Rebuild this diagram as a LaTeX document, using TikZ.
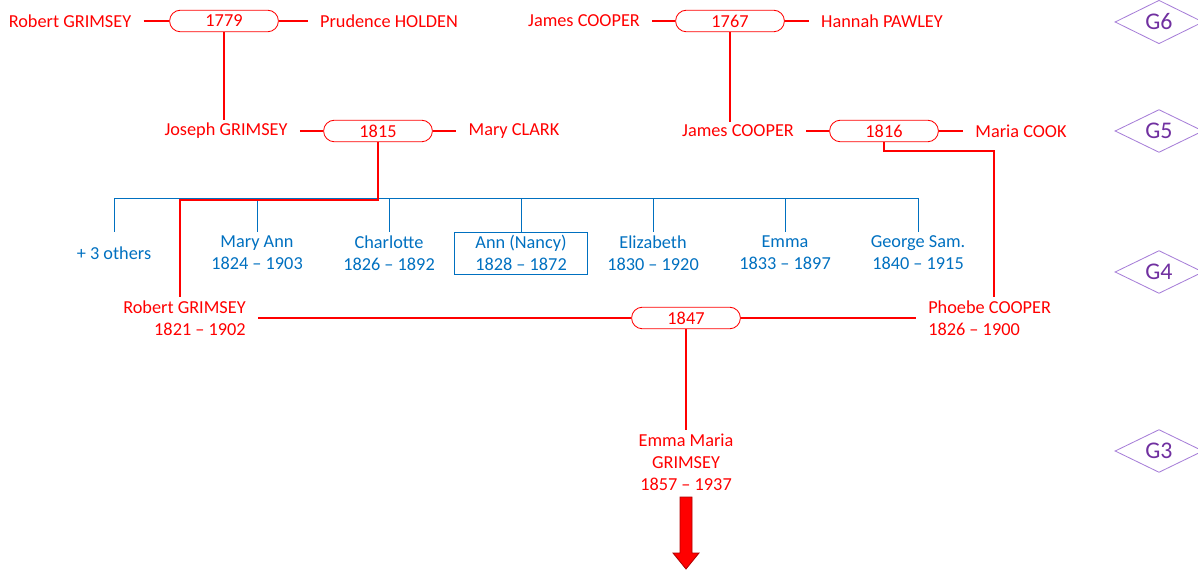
\documentclass[tikz,border=0pt]{standalone}
\usepackage{fontspec}
\setmainfont{Carlito}
\usetikzlibrary{shapes.geometric}
\definecolor{Kin}{HTML}{FF0000}
\definecolor{Kid}{HTML}{0070C0}
\definecolor{Gen}{HTML}{7030A0}
\definecolor{GenLine}{HTML}{A77FD8}
\definecolor{DarkKin}{HTML}{B00000}
\begin{document}
\begin{tikzpicture}[x=0.025cm,y=-0.025cm,
  person/.style={text=Kin,font=\fontsize{13}{15.6}\selectfont,inner xsep=0.3cm,inner ysep=0.08cm},
  wed/.style={draw=Kin,line width=0.6pt,rounded corners=0.27cm,minimum width=2.72cm,minimum height=0.54cm,inner sep=0pt,text=Kin,font=\fontsize{13}{15.6}\selectfont},
  kid/.style={text=Kid,align=center,minimum height=1.05cm,inner sep=0pt,font=\fontsize{13}{15.6}\selectfont},
  kidbox/.style={kid,draw=Kid,line width=0.6pt,minimum width=3.33cm},
  gen/.style={diamond,draw=GenLine,line width=0.6pt,text=Gen,minimum width=2.2cm,minimum height=1.03cm,inner sep=0pt,font=\fontsize{17}{20}\selectfont},
  link/.style={draw=Kin,line width=1.1pt},
  famline/.style={draw=Kin,line width=1.4pt},
  kidline/.style={draw=Kid,line width=0.7pt},
  fatarrow/.style={fill=Kin,draw=DarkKin,line width=0.6pt,line join=miter}
]
\useasboundingbox (0,0) rectangle (1198,570);
% G6
\node[person] (rg6) at (70,21) {Robert GRIMSEY};
\node[wed] (p1779) at (224,21) {1779};
\node[person] (ph6) at (389,21) {Prudence HOLDEN};
\node[person] (jc6) at (584,21) {James COOPER};
\node[wed] (p1767) at (730,21) {1767};
\node[person] (hp6) at (882,21) {Hannah PAWLEY};
\draw[link] (rg6) -- (p1779);
\draw[link] (p1779) -- (ph6);
\draw[link] (jc6) -- (p1767);
\draw[link] (p1767) -- (hp6);
% G5
\node[person] (jg5) at (226,131) {Joseph GRIMSEY};
\node[wed] (p1815) at (378,131) {1815};
\node[person] (mc5) at (514,131) {Mary CLARK};
\node[person] (jc5) at (738,131) {James COOPER};
\node[wed] (p1816) at (884,131) {1816};
\node[person] (mk5) at (1021,131) {Maria COOK};
\draw[link] (jg5) -- (p1815);
\draw[link] (p1815) -- (mc5);
\draw[link] (jc5) -- (p1816);
\draw[link] (p1816) -- (mk5);
\draw[link] (p1779.south) -- (p1779.south |- jg5.north);
\draw[link] (p1767.south) -- (p1767.south |- jc5.north);
% children of 1815
\coordinate (bar) at (114,198);
\node[kid] (ko) at (114,253) {+ 3 others};
\node[kid] (ma) at (257,253) {Mary Ann\\1824 -- 1903};
\node[kid] (ch) at (389,253) {Charlotte\\1826 -- 1892};
\node[kidbox] (an) at (521,253) {Ann (Nancy)\\1828 -- 1872};
\node[kid] (el) at (653,253) {Elizabeth\\1830 -- 1920};
\node[kid] (em) at (785,253) {Emma\\1833 -- 1897};
\node[kid] (gs) at (918,253) {George Sam.\\1840 -- 1915};
\draw[kidline] (ko.north) -- (ko.north |- bar) -- (gs.north |- bar) -- (gs.north);
\foreach \k in {ma,ch,an,el,em}
  \draw[kidline] (\k.north) -- (\k.north |- bar);
% G4
\node[person,anchor=east,align=right] (rg4) at (258,318) {Robert GRIMSEY\\1821 -- 1902};
\node[wed] (p1847) at (686,318) {1847};
\node[person,anchor=west,align=left] (pc4) at (916,318) {Phoebe COOPER\\1826 -- 1900};
\draw[link] (rg4) -- (p1847);
\draw[link] (p1847) -- (pc4);
\coordinate (rbend) at (180,200);
\coordinate (pbend) at (994,151);
\draw[famline] (p1815.south) |- (rbend) -- (rbend |- rg4.north);
\draw[famline] (p1816.south) |- (pbend) -- (pbend |- pc4.north);
% G3
\node[person,align=center] (em3) at (686,462) {Emma Maria\\GRIMSEY\\1857 -- 1937};
\draw[link] (p1847.south) -- (em3.north);
\coordinate (atop) at (686,497);
\coordinate (atip) at (686,569);
\filldraw[fatarrow] (atop) ++(-6,0) -- ++(12,0) |- ++(7,56) -- (atip) -- ++(-13,-16) -- ++(7,0) -- cycle;
% generations
\node[gen] (g6) at (1159,22) {G6};
\node[gen] (g5) at (1159,131) {G5};
\node[gen] (g4) at (1159,272) {G4};
\node[gen] (g3) at (1159,451) {G3};
\end{tikzpicture}
\end{document}
